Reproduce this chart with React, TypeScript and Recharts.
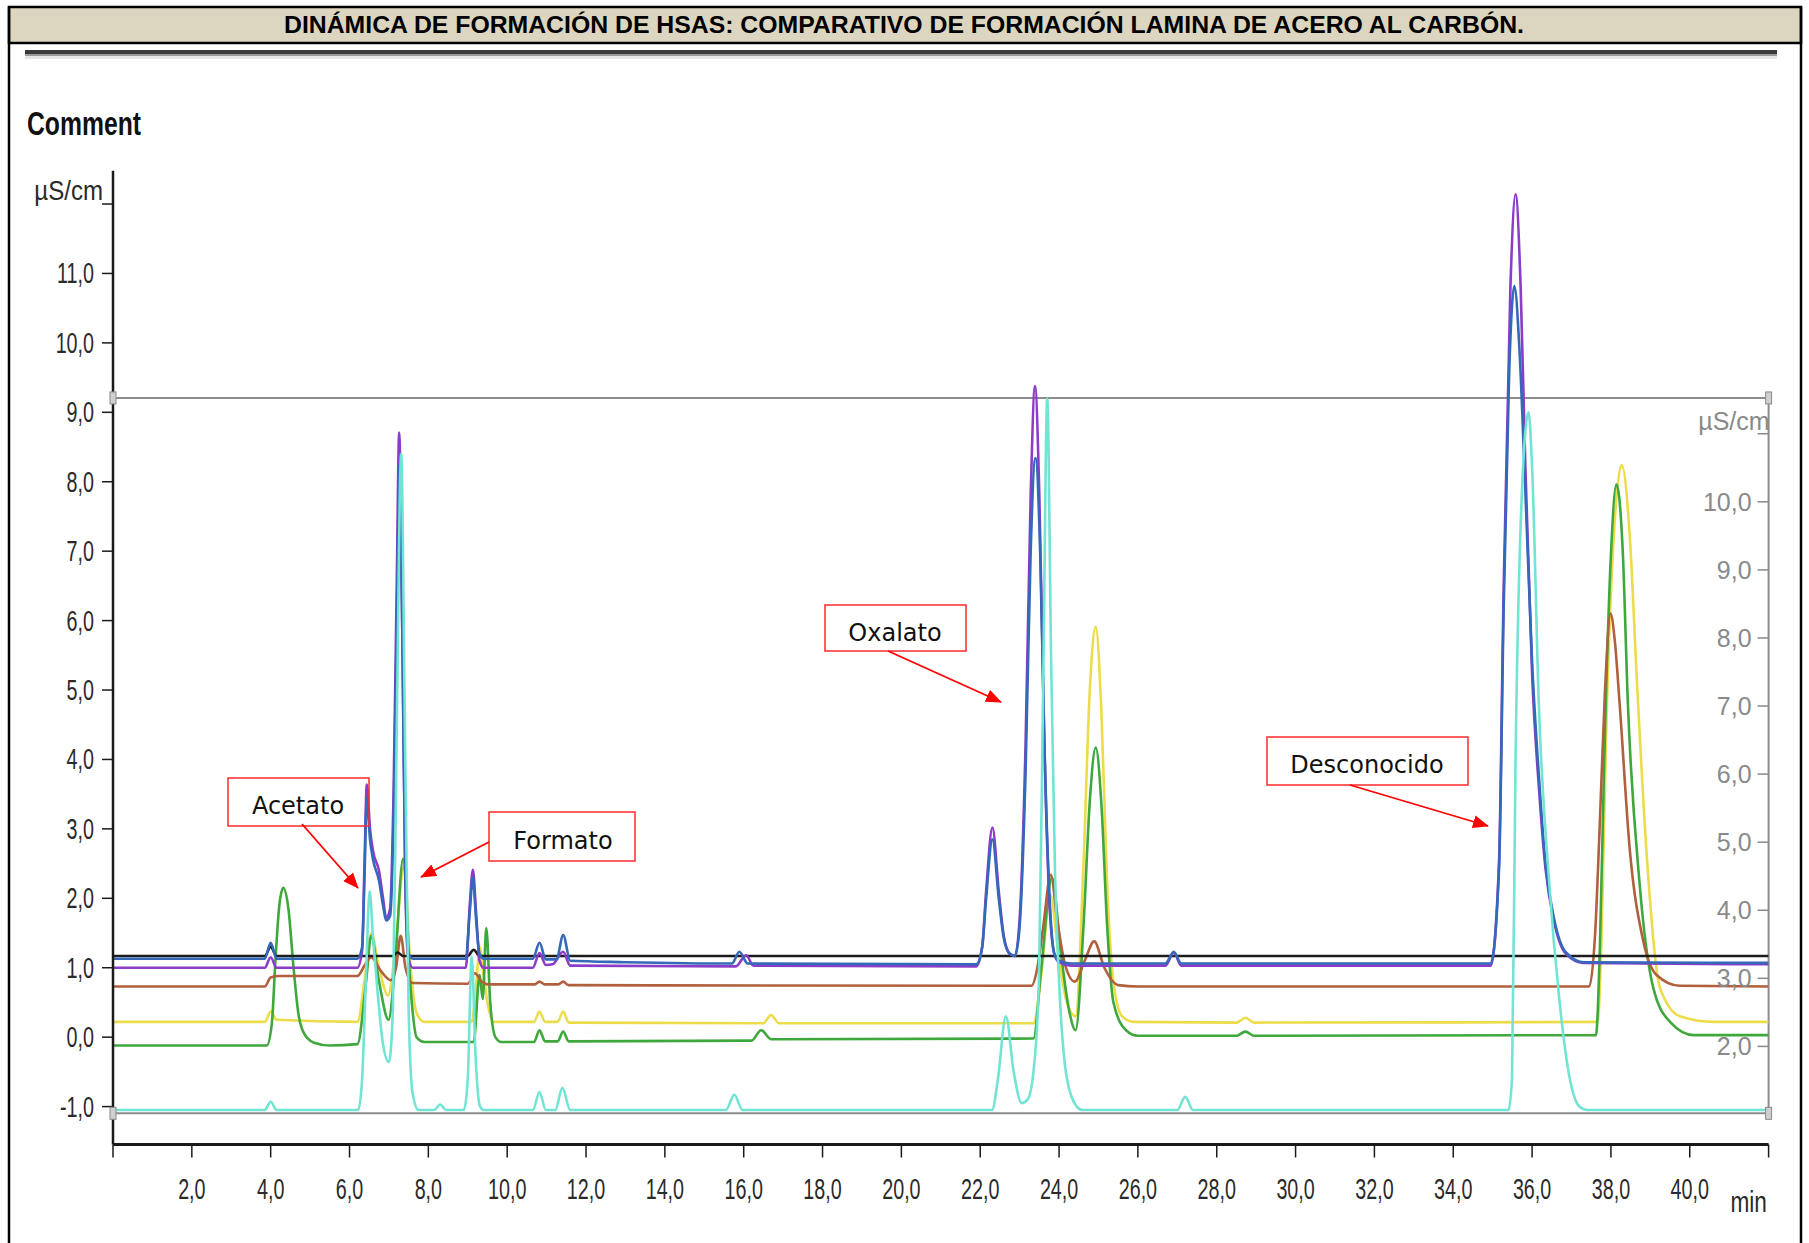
import React from 'react';
import { LineChart, Line, XAxis, YAxis, ReferenceLine, ReferenceDot } from 'recharts';

type Pt = [number, number];

// time (min), conductivity (µS/cm, left scale)
const blankTrace: Pt[] = [
  [0, 1.17], [3.85, 1.17], [4.0, 1.3], [4.15, 1.17], [7.1, 1.17], [7.22, 1.22], [7.35, 1.17],
  [9.0, 1.17], [9.15, 1.26], [9.3, 1.17], [42, 1.17],
];

const blueTrace: Pt[] = [
  [0, 1.13], [3.85, 1.13], [4.0, 1.36], [4.15, 1.13],
  [6.2, 1.13], [6.32, 1.3], [6.38, 2.3], [6.44, 3.45], [6.52, 2.85], [6.6, 2.55], [6.75, 2.25], [6.85, 1.9],
  [6.93, 1.68], [7.03, 1.75], [7.12, 3.2], [7.2, 6.0], [7.27, 8.25], [7.34, 5.8], [7.42, 2.2], [7.5, 1.2], [7.62, 1.13],
  [8.95, 1.13], [9.05, 1.8], [9.13, 2.3], [9.21, 1.7], [9.3, 1.2], [9.4, 1.13],
  [10.65, 1.13], [10.82, 1.36], [10.98, 1.12], [11.25, 1.12], [11.42, 1.47], [11.6, 1.1],
  [13.0, 1.08], [15.7, 1.06], [15.89, 1.23], [16.1, 1.06],
  [21.9, 1.05], [22.05, 1.3], [22.15, 2.0], [22.31, 2.85], [22.47, 2.0], [22.6, 1.42], [22.75, 1.2], [22.88, 1.17],
  [23.0, 1.6], [23.15, 3.8], [23.28, 7.0], [23.4, 8.34], [23.52, 7.0], [23.63, 4.2], [23.76, 2.0], [23.88, 1.2], [24.0, 1.1], [24.3, 1.06],
  [26.7, 1.06], [26.91, 1.23], [27.1, 1.06],
  [34.95, 1.06], [35.16, 2.4], [35.28, 6.2], [35.42, 9.6], [35.55, 10.82], [35.68, 9.9], [35.82, 8.0], [36.0, 5.4],
  [36.18, 3.7], [36.34, 2.5], [36.56, 1.7], [36.86, 1.22], [37.3, 1.08], [42, 1.07],
];

const purpleTrace: Pt[] = [
  [0, 1.0], [3.85, 1.0], [4.0, 1.15], [4.15, 1.0],
  [6.2, 1.0], [6.32, 1.25], [6.38, 2.5], [6.44, 3.64], [6.52, 3.0], [6.6, 2.67], [6.75, 2.39], [6.85, 2.0],
  [6.93, 1.72], [7.03, 1.85], [7.12, 3.6], [7.2, 6.6], [7.26, 8.71], [7.33, 6.3], [7.41, 2.4], [7.48, 1.19], [7.6, 1.0],
  [8.95, 1.0], [9.05, 1.9], [9.13, 2.41], [9.21, 1.8], [9.3, 1.1], [9.4, 1.0],
  [10.65, 1.0], [10.82, 1.21], [10.98, 1.04], [11.15, 1.05], [11.42, 1.23], [11.6, 1.03],
  [15.8, 1.02], [16.06, 1.18], [16.25, 1.03],
  [21.9, 1.02], [22.05, 1.3], [22.15, 2.1], [22.31, 3.02], [22.47, 2.1], [22.6, 1.45], [22.75, 1.2], [22.88, 1.17],
  [23.0, 1.7], [23.15, 4.2], [23.28, 7.8], [23.39, 9.38], [23.5, 7.8], [23.62, 4.4], [23.75, 2.0], [23.88, 1.2], [24.0, 1.08], [24.3, 1.03],
  [26.7, 1.03], [26.91, 1.22], [27.1, 1.03],
  [34.95, 1.03], [35.16, 2.5], [35.28, 6.5], [35.45, 10.8], [35.58, 12.14], [35.71, 10.8], [35.83, 8.2], [36.0, 5.24],
  [36.18, 3.54], [36.34, 2.43], [36.56, 1.66], [36.86, 1.2], [37.3, 1.07], [42, 1.05],
];

const brownTrace: Pt[] = [
  [0, 0.73], [3.85, 0.73], [4.0, 0.86], [4.2, 0.88], [6.2, 0.88], [6.4, 1.05], [6.55, 1.15], [6.8, 0.95],
  [7.05, 0.82], [7.18, 1.0], [7.3, 1.46], [7.42, 1.0], [7.6, 0.78],
  [9.0, 0.77], [9.18, 0.92], [9.35, 0.8], [9.5, 0.76], [10.7, 0.76], [10.82, 0.8], [10.95, 0.76],
  [11.3, 0.76], [11.42, 0.8], [11.55, 0.75],
  [23.3, 0.74], [23.45, 1.0], [23.6, 1.6], [23.79, 2.34], [23.95, 1.7], [24.15, 1.05], [24.4, 0.8], [24.65, 1.1],
  [24.89, 1.38], [25.15, 1.0], [25.5, 0.75], [26.0, 0.73],
  [37.45, 0.73], [37.6, 1.5], [37.71, 2.96], [37.85, 5.0], [37.99, 6.1], [38.1, 5.7], [38.22, 4.81], [38.48, 2.69],
  [38.81, 1.41], [39.15, 0.9], [39.75, 0.74], [42, 0.73],
];

const yellowTrace: Pt[] = [
  [0, 0.22], [3.85, 0.22], [4.0, 0.37], [4.15, 0.25], [6.2, 0.22], [6.4, 0.9], [6.55, 1.5], [6.75, 1.0], [6.98, 0.6],
  [7.15, 1.2], [7.38, 2.45], [7.55, 1.0], [7.7, 0.35], [7.9, 0.22],
  [9.1, 0.22], [9.22, 0.8], [9.3, 1.3], [9.4, 0.9], [9.5, 0.5], [9.65, 0.22],
  [10.68, 0.22], [10.82, 0.37], [10.96, 0.22], [11.28, 0.22], [11.42, 0.37], [11.56, 0.21],
  [16.5, 0.2], [16.69, 0.32], [16.9, 0.2],
  [23.35, 0.2], [23.55, 0.9], [23.78, 2.05], [24.0, 1.1], [24.2, 0.5], [24.42, 0.3], [24.62, 2.5], [24.78, 5.0],
  [24.93, 5.91], [25.08, 4.6], [25.22, 2.2], [25.38, 0.8], [25.6, 0.3], [25.9, 0.22],
  [28.5, 0.21], [28.73, 0.28], [28.95, 0.21],
  [37.66, 0.22], [37.76, 1.4], [37.88, 4.39], [38.09, 7.37], [38.27, 8.24], [38.48, 7.2], [38.65, 5.24], [38.9, 2.69],
  [39.24, 0.72], [39.75, 0.3], [40.6, 0.22], [42, 0.22],
];

const greenTrace: Pt[] = [
  [0, -0.12], [3.9, -0.12], [4.03, 0.2], [4.12, 1.1], [4.22, 1.9], [4.32, 2.15], [4.45, 1.85], [4.58, 1.0],
  [4.7, 0.35], [4.85, 0.05], [5.1, -0.08], [5.5, -0.12],
  [6.2, -0.1], [6.42, 0.8], [6.55, 1.46], [6.75, 0.8], [6.99, 0.25], [7.15, 1.0], [7.36, 2.57], [7.55, 0.7],
  [7.7, 0.0], [7.9, -0.07],
  [9.15, -0.07], [9.3, 0.9], [9.38, 0.55], [9.47, 1.57], [9.57, 0.5], [9.7, 0.0], [9.85, -0.07],
  [10.68, -0.07], [10.82, 0.1], [10.96, -0.06], [11.28, -0.06], [11.42, 0.08], [11.56, -0.06],
  [16.2, -0.05], [16.44, 0.1], [16.7, -0.03],
  [23.35, -0.02], [23.55, 1.0], [23.82, 2.3], [24.05, 1.2], [24.25, 0.4], [24.42, 0.1], [24.62, 1.6], [24.78, 3.4],
  [24.93, 4.17], [25.08, 3.3], [25.22, 1.6], [25.38, 0.5], [25.7, 0.1], [26.0, 0.02],
  [28.5, 0.02], [28.73, 0.08], [28.95, 0.02],
  [37.62, 0.03], [37.72, 1.3], [37.83, 3.97], [38.0, 6.95], [38.14, 7.96], [38.3, 7.0], [38.43, 4.81], [38.72, 2.26],
  [39.07, 0.72], [39.5, 0.22], [40.1, 0.03], [42, 0.03],
];

const cyanTrace: Pt[] = [
  [0, -1.05], [3.85, -1.05], [4.0, -0.93], [4.15, -1.05],
  [6.22, -1.05], [6.32, -0.6], [6.42, 0.9], [6.51, 2.1], [6.6, 1.4], [6.72, 0.6], [6.85, -0.1], [7.0, -0.36],
  [7.1, 0.4], [7.2, 4.5], [7.31, 8.4], [7.41, 4.2], [7.5, 0.4], [7.6, -0.8], [7.75, -1.05],
  [8.15, -1.05], [8.3, -0.97], [8.45, -1.05],
  [8.9, -1.05], [9.0, -0.6], [9.1, 1.16], [9.2, -0.3], [9.3, -0.98], [9.4, -1.05],
  [10.65, -1.05], [10.82, -0.79], [10.98, -1.05], [11.22, -1.05], [11.4, -0.73], [11.6, -1.05],
  [15.55, -1.05], [15.76, -0.83], [15.97, -1.05],
  [22.3, -1.05], [22.45, -0.6], [22.65, 0.3], [22.85, -0.5], [23.05, -0.95], [23.2, -0.9], [23.35, -0.5],
  [23.49, 0.81], [23.6, 5.2], [23.7, 9.2], [23.8, 5.4], [23.9, 2.3], [24.0, 0.81], [24.2, -0.6], [24.45, -1.0], [24.6, -1.05],
  [27.0, -1.05], [27.2, -0.86], [27.4, -1.05],
  [35.4, -1.05], [35.49, -0.6], [35.58, 3.97], [35.71, 7.37], [35.91, 9.0], [36.0, 8.22], [36.17, 4.81], [36.43, 2.26],
  [36.69, 0.55], [36.94, -0.55], [37.2, -1.0], [37.4, -1.05], [42, -1.05],
];

const timeTicks = [0, 2, 4, 6, 8, 10, 12, 14, 16, 18, 20, 22, 24, 26, 28, 30, 32, 34, 36, 38, 40, 42];
const leftTicks = [-1, 0, 1, 2, 3, 4, 5, 6, 7, 8, 9, 10, 11, 12];
const rightTicks = [2, 3, 4, 5, 6, 7, 8, 9, 10, 11];

// window of the second overlay (left units)
const windowTop = 9.207;
const windowBottom = -1.097;

const peakNames = ['Acetato', 'Formato', 'Oxalato', 'Desconocido'];

const title = 'DINÁMICA DE FORMACIÓN DE HSAS: COMPARATIVO DE FORMACIÓN LAMINA DE ACERO AL CARBÓN.';

const toRows = (pts: Pt[]) => pts.map(([t, v]) => ({ t, v }));

const series = [
  { id: 'yellow', data: yellowTrace, color: '#ecdc4a' },
  { id: 'green', data: greenTrace, color: '#3ea83c' },
  { id: 'brown', data: brownTrace, color: '#b0603c' },
  { id: 'blank', data: blankTrace, color: '#1c1c1c' },
  { id: 'purple', data: purpleTrace, color: '#8c3cc8' },
  { id: 'blue', data: blueTrace, color: '#3468b8' },
  { id: 'cyan', data: cyanTrace, color: '#72e4d4' },
];

const W = 1809;
const H = 1243;
const NARROW = "'Liberation Sans Narrow', 'Arial Narrow', 'Liberation Sans', sans-serif";

const fmt = (v: number) => v.toFixed(1).replace('.', ',');

// squeezed text, like the narrow font of the instrument software
const Narrow = ({ x, y, dy, anchor, size, sx, fill, children }: any) => (
  <g transform={`translate(${x},${y})`}>
    <text transform={`scale(${sx},1)`} dy={dy} textAnchor={anchor} fontFamily={NARROW} fontSize={size} fill={fill}>
      {children}
    </text>
  </g>
);

const TimeTick = (props: any) => {
  const { x, y, payload } = props;
  const v = payload.value;
  if (v === 0) return null;
  if (v === 42) {
    return <Narrow x={x - 20} y={y} dy={53} anchor="middle" size={29} sx={0.78} fill="#2a2a2a">min</Narrow>;
  }
  return <Narrow x={x} y={y} dy={40} anchor="middle" size={29} sx={0.68} fill="#2a2a2a">{fmt(v)}</Narrow>;
};

const LeftTick = (props: any) => {
  const { x, y, payload } = props;
  const v = payload.value;
  if (v === 12) {
    return <Narrow x={x + 9} y={y} dy={-4} anchor="end" size={28} sx={0.86} fill="#2a2a2a">µS/cm</Narrow>;
  }
  return <Narrow x={x} y={y} dy={10} anchor="end" size={29} sx={0.68} fill="#2a2a2a">{fmt(v)}</Narrow>;
};

const RightTick = (props: any) => {
  const { x, y, payload } = props;
  const v = payload.value;
  if (v === 11) {
    return (
      <text x={x + 18} y={y} dy={-4} textAnchor="end" fontFamily={NARROW} fontSize={25} fill="#8a8a8a">µS/cm</text>
    );
  }
  return (
    <text x={x} y={y} dy={9} textAnchor="end" fontFamily={NARROW} fontSize={25} fill="#8a8a8a">{fmt(v)}</text>
  );
};

const WindowCorner = (props: any) => (
  <rect x={props.cx - 3} y={props.cy - 6} width={6} height={12} fill="#cfcfcf" stroke="#8a8a8a" strokeWidth={1} />
);

// label boxes and arrows (page pixels)
const boxes = [
  { x: 228, y: 778, w: 141, h: 48, tx: 298, ty: 814, ax1: 302, ay1: 824, ax2: 358, ay2: 888 },
  { x: 489, y: 812, w: 146, h: 49, tx: 563, ty: 849, ax1: 489, ay1: 842, ax2: 421, ay2: 877 },
  { x: 825, y: 605, w: 141, h: 46, tx: 895, ty: 641, ax1: 888, ay1: 651, ax2: 1001, ay2: 702 },
  { x: 1267, y: 737, w: 201, h: 48, tx: 1367, ty: 773, ax1: 1350, ay1: 785, ax2: 1488, ay2: 826 },
];

export default function App() {
  return (
    <div style={{ position: 'absolute', left: 0, top: 0, width: W, height: H, background: '#fff', overflow: 'hidden' }}>
      <svg width={W} height={H} style={{ position: 'absolute', left: 0, top: 0 }}>
        <rect x={9} y={7} width={1792} height={36} fill="#dcd6c0" stroke="#000" strokeWidth={2.5} />
        <line x1={9} y1={7} x2={9} y2={H} stroke="#000" strokeWidth={2.5} />
        <line x1={1801} y1={7} x2={1801} y2={H} stroke="#000" strokeWidth={2.5} />
        <text x={904} y={33} textAnchor="middle" fontFamily={NARROW} fontWeight="bold" fontSize={24}
          textLength={1240} lengthAdjust="spacingAndGlyphs" fill="#000">{title}</text>
        <rect x={25} y={50} width={1752} height={4} fill="#3a3a3a" />
        <rect x={25} y={54} width={1752} height={2} fill="#9a9a9a" />
        <rect x={25} y={56} width={1752} height={3} fill="#e6e6e6" />
        <text x={27} y={135} fontFamily={NARROW} fontWeight="bold" fontSize={34}
          textLength={114} lengthAdjust="spacingAndGlyphs" fill="#111">Comment</text>
      </svg>

      <div style={{ position: 'absolute', left: 0, top: 0 }}>
        <LineChart width={W} height={H} margin={{ top: 170.7, right: 40.4, bottom: 38.5, left: 53 }}>
          <XAxis
            dataKey="t"
            type="number"
            domain={[0, 42]}
            ticks={timeTicks}
            allowDataOverflow
            height={60}
            tickSize={13}
            axisLine={{ stroke: '#1a1a1a', strokeWidth: 3 }}
            tickLine={{ stroke: '#1a1a1a', strokeWidth: 1.5 }}
            tick={<TimeTick />}
          />
          <YAxis
            yAxisId="left"
            type="number"
            domain={[-1.546, 12.48]}
            ticks={leftTicks}
            allowDataOverflow
            width={60}
            tickSize={11}
            tickMargin={8}
            axisLine={{ stroke: '#1a1a1a', strokeWidth: 2.5 }}
            tickLine={{ stroke: '#1a1a1a', strokeWidth: 1.5 }}
            tick={<LeftTick />}
          />
          <YAxis
            yAxisId="right"
            orientation="right"
            mirror
            type="number"
            domain={[0.559, 14.864]}
            ticks={rightTicks}
            allowDataOverflow
            width={60}
            tickSize={11}
            tickMargin={6}
            axisLine={false}
            tickLine={{ stroke: '#8a8a8a', strokeWidth: 1.5 }}
            tick={<RightTick />}
          />
          <ReferenceLine yAxisId="left" y={windowTop} stroke="#8c8c8c" strokeWidth={2} />
          <ReferenceLine yAxisId="left" y={windowBottom} stroke="#8c8c8c" strokeWidth={2} />
          <ReferenceLine
            yAxisId="left"
            segment={[{ x: 42, y: windowBottom }, { x: 42, y: windowTop }]}
            stroke="#8c8c8c"
            strokeWidth={2}
          />
          {series.map((s) => (
            <Line
              key={s.id}
              yAxisId="left"
              data={toRows(s.data)}
              dataKey="v"
              type="monotone"
              stroke={s.color}
              strokeWidth={2.6}
              dot={false}
              activeDot={false}
              isAnimationActive={false}
            />
          ))}
          <ReferenceDot yAxisId="left" x={0} y={windowTop} shape={<WindowCorner />} />
          <ReferenceDot yAxisId="left" x={0} y={windowBottom} shape={<WindowCorner />} />
          <ReferenceDot yAxisId="left" x={42} y={windowTop} shape={<WindowCorner />} />
          <ReferenceDot yAxisId="left" x={42} y={windowBottom} shape={<WindowCorner />} />
        </LineChart>
      </div>

      <svg width={W} height={H} style={{ position: 'absolute', left: 0, top: 0, pointerEvents: 'none' }}>
        <defs>
          <marker id="arrowHead" markerUnits="userSpaceOnUse" markerWidth={16} markerHeight={13}
            refX={15} refY={6.5} orient="auto">
            <path d="M0,0 L16,6.5 L0,13 z" fill="#ff0000" />
          </marker>
        </defs>
        {boxes.map((b, i) => (
          <g key={peakNames[i]}>
            <rect x={b.x} y={b.y} width={b.w} height={b.h} fill="none" stroke="#ff2a2a" strokeWidth={1.5} />
            <text x={b.tx} y={b.ty} textAnchor="middle" fontFamily="'DejaVu Sans', Verdana, sans-serif"
              fontSize={24} fill="#111">{peakNames[i]}</text>
            <line x1={b.ax1} y1={b.ay1} x2={b.ax2} y2={b.ay2} stroke="#ff0000" strokeWidth={1.8}
              markerEnd="url(#arrowHead)" />
          </g>
        ))}
      </svg>
    </div>
  );
}
